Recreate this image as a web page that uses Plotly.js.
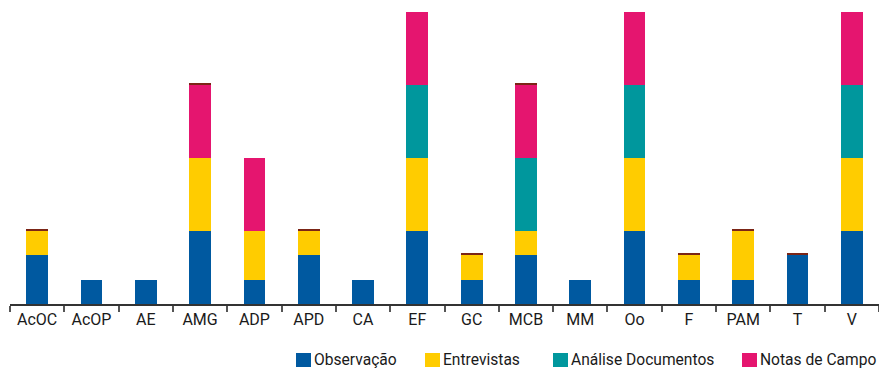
<!DOCTYPE html>
<html><head><meta charset="utf-8">
<script src="https://cdn.plot.ly/plotly-3.0.1.min.js"></script>
<style>html,body{margin:0;padding:0;background:#fff}#chart{width:879px;height:369px}</style>
</head><body><div id="chart"></div>
<script>
const categories = ["AcOC","AcOP","AE","AMG","ADP","APD","CA","EF","GC","MCB","MM","Oo","F","PAM","T","V"];
const observacao = [2,1,1,3,1,2,1,3,1,2,1,3,1,1,2,3];
const entrevistas = [1,0,0,3,2,1,0,3,1,1,0,3,1,2,0,3];
const analiseDocumentos = [0,0,0,0,0,0,0,3,0,3,0,3,0,0,0,3];
const notasDeCampo = [0,0,0,3,3,0,0,3,0,3,0,3,0,0,0,3];
const outros = [0.08,0,0,0.08,0,0.08,0,0,0.08,0.08,0,0,0.08,0.08,0.08,0];

const seriesNames = ["Observação","Entrevistas","Análise Documentos","Notas de Campo"];
const colors = ["#0059A0","#FFCC00","#00979D","#E5156F"];
const seriesValues = [observacao, entrevistas, analiseDocumentos, notasDeCampo];

const traces = seriesValues.map((v,i)=>({
  type:"bar", x:categories, y:v, name:seriesNames[i],
  marker:{color:colors[i], line:{width:0}}, width:0.4, hoverinfo:"x+y+name"
}));
traces.push({type:"bar", x:categories, y:outros, name:"Outros", showlegend:false,
  marker:{color:"#7B2516", line:{width:0}}, width:0.4});

// custom legend (pixel positions converted to paper coordinates)
const L = 10, T = 12, W = 869, H = 292;
const px = x => (x - L) / W;
const py = y => (T + H - y) / H;
const legendX = [296, 425, 553, 742];
const shapes = [], annotations = [];
legendX.forEach((x,i)=>{
  shapes.push({type:"rect", xref:"paper", yref:"paper", x0:px(x), x1:px(x+15), y0:py(353), y1:py(367),
    fillcolor:colors[i], line:{width:0}});
  annotations.push({xref:"paper", yref:"paper", x:px(x+17), y:py(360), xanchor:"left", yanchor:"middle",
    text:seriesNames[i], showarrow:false, borderpad:0, font:{size:15.6, color:"#1a1a1a"}});
});

const layout = {
  width:879, height:369, barmode:"stack",
  margin:{l:L, r:0, t:T, b:369-T-H},
  paper_bgcolor:"#fff", plot_bgcolor:"#fff",
  font:{family:"Roboto, sans-serif", size:16, color:"#1a1a1a"},
  xaxis:{type:"category", range:[-0.5,15.5], showline:true, linecolor:"#333", linewidth:2,
    ticks:"outside", tickson:"boundaries", ticklen:6, tickcolor:"#555", tickwidth:2,
    tickfont:{size:16, color:"#1a1a1a"}, showgrid:false, zeroline:false, automargin:false},
  yaxis:{range:[0,12], visible:false, showgrid:false, zeroline:false, fixedrange:true},
  showlegend:false, shapes:shapes, annotations:annotations
};
Plotly.newPlot("chart", traces, layout, {displayModeBar:false, staticPlot:true});
</script></body></html>
